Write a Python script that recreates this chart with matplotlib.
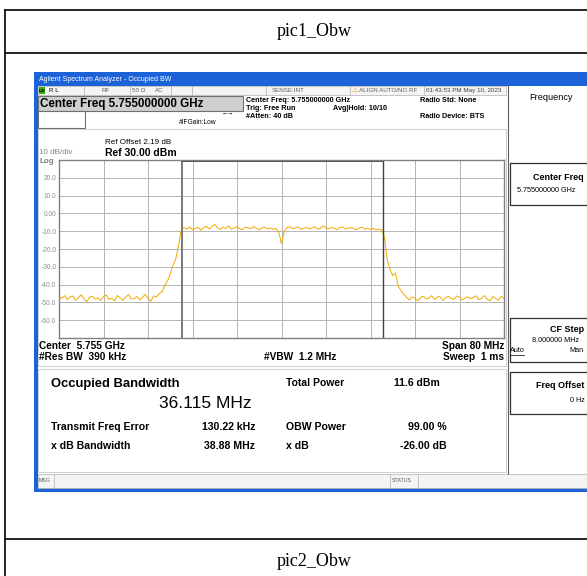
import numpy as np
import matplotlib
matplotlib.use('Agg')
import matplotlib.pyplot as plt
from matplotlib.patches import Rectangle

plt.rcParams['font.family'] = ['Liberation Sans', 'DejaVu Sans']

center_ghz = 5.755
span_mhz = 80
ref_level = 30.0
db_per_div = 10
obw_mhz = 36.115
freq_err_mhz = 0.13022

y_tick_vals = [20, 10, 0, -10, -20, -30, -40, -50, -60]
y_tick_labels = ['20.0', '10.0', '0.00', '-10.0', '-20.0', '-30.0', '-40.0', '-50.0', '-60.0']

# trace, one point every 0.5 MHz from -40 to +40 MHz (offset from center)
freq_offset = np.linspace(-40, 40, 161)
floor_left = [-46.5, -47.8, -46.2, -48.5, -47.0, -46.4, -48.9, -47.3, -45.8, -47.9,
              -49.6, -47.1, -46.5, -48.2, -47.4, -49.0, -46.8, -45.9, -48.3, -47.7,
              -49.2, -46.1, -47.5, -48.8, -47.0, -45.6, -48.1, -47.9, -46.7, -48.6,
              -47.2, -45.5, -47.8, -49.3, -46.4, -47.0, -45.2]
edge_left = [-44.0, -40.5, -38.0, -34.0, -29.0, -25.5, -18.0, -9.0]
band_left = [-8.0, -8.9, -7.6, -9.2, -8.4, -7.9, -9.5, -8.1, -7.2, -8.8,
             -7.5, -6.1, -8.3, -9.0, -7.7, -8.5, -7.0, -8.9, -8.2, -7.4,
             -8.6, -9.1, -7.8, -8.0, -8.7, -7.3, -8.4, -9.3, -8.1, -7.9,
             -8.6, -8.2, -9.0, -8.3, -10.5]
center_dip = [-17.0]
band_right = [-9.8, -8.0, -7.4, -8.6, -8.1, -7.7, -9.0, -8.3, -7.9, -8.8,
              -8.2, -7.5, -8.9, -8.4, -6.9, -8.1, -8.7, -7.8, -8.5, -9.1,
              -8.0, -7.6, -8.8, -8.3, -7.9, -8.6, -9.2, -8.1, -7.7, -8.9,
              -8.5, -9.0, -8.4, -9.3, -8.8, -9.1]
edge_right = [-13.0, -26.0, -31.5, -35.0, -33.5, -41.0, -43.5, -45.5]
floor_right = [-47.2, -48.6, -46.9, -47.8, -49.0, -47.3, -46.5, -48.1, -47.6, -46.2,
               -48.4, -47.0, -46.8, -48.9, -47.4, -46.6, -47.9, -48.3, -46.4, -47.1,
               -48.7, -47.5, -46.9, -48.0, -47.2, -46.3, -48.5, -47.7, -46.1, -48.2,
               -49.1, -46.7, -47.8, -48.8, -46.5, -48.0]
trace_dbm = floor_left + edge_left + band_left + center_dip + band_right + edge_right + floor_right

W, H = 587, 576
fig = plt.figure(figsize=(W / 100, H / 100), dpi=100)
bg = fig.add_axes([0, 0, 1, 1])
bg.set_xlim(0, W)
bg.set_ylim(H, 0)
bg.axis('off')


def txt(x, y, s, size=6, weight='normal', ha='left', color='black', **kw):
    bg.text(x, y, s, fontsize=size, fontweight=weight, ha=ha, va='center', color=color, **kw)


def box(x0, y0, x1, y1, fc='none', ec='#808080', lw=0.8):
    bg.add_patch(Rectangle((x0, y0), x1 - x0, y1 - y0, fc=fc, ec=ec, lw=lw))


# ---- document table ----
bg.plot([5, W], [10, 10], color='black', lw=1.2)
bg.plot([5, W], [53, 53], color='black', lw=1.2)
bg.plot([5, W], [539, 539], color='black', lw=1.2)
bg.plot([5, 5], [10, H], color='black', lw=1.2)
bg.text(314, 32, 'pic1_Obw', fontsize=13, family='Liberation Serif', ha='center', va='center')
bg.text(314, 562, 'pic2_Obw', fontsize=13, family='Liberation Serif', ha='center', va='center')

# ---- analyzer window ----
box(34, 72, W + 5, 492, fc='white', ec='none')
bg.add_patch(Rectangle((34, 72), W - 34 + 5, 14, fc='#1c62d8', ec='none'))
bg.add_patch(Rectangle((34, 72), 3.5, 420, fc='#1c62d8', ec='none'))
bg.add_patch(Rectangle((34, 488), W - 34 + 5, 4, fc='#1c62d8', ec='none'))
txt(39, 79.5, 'Agilent Spectrum Analyzer - Occupied BW', size=5, color='white')

# status row
box(37.5, 86, 506, 95, fc='#f4f4f4', ec='#b0b0b0', lw=0.5)
for xd in [84, 130, 171, 192, 266, 350, 424]:
    bg.plot([xd, xd], [86, 95], color='#b0b0b0', lw=0.5)
bg.add_patch(Rectangle((38.5, 87), 6, 7, fc='#3cb000', ec='none'))
txt(39, 90.5, 'LXI', size=3.2, weight='bold')
txt(49, 90.5, 'R L', size=4.5)
txt(102, 90.5, 'RF', size=4.5, color='#606060')
txt(132, 90.5, '50 Ω', size=4.5, color='#606060')
txt(155, 90.5, 'AC', size=4.5, color='#606060')
txt(272, 90.5, 'SENSE:INT', size=4.5, color='#606060')
txt(352, 90.5, '⚠', size=5, color='#e0b000')
txt(359, 90.5, 'ALIGN AUTO/NO RF', size=4.5, color='#606060')
txt(426, 90.5, '01:43:53 PM May 10, 2023', size=4.5, color='#404040')

# center freq entry
box(38, 95.5, 243, 111, fc='#cfcfcf', ec='#707070', lw=0.8)
txt(40, 103.5, 'Center Freq 5.755000000 GHz', size=8.4, weight='bold')
box(38, 111, 85, 128, fc='white', ec='#707070', lw=0.8)
txt(222, 113, '←→', size=4.5)
txt(179, 122, '#IFGain:Low', size=4.8)
txt(246, 100, 'Center Freq: 5.755000000 GHz', size=5.2, weight='bold')
txt(246, 108, 'Trig: Free Run', size=5.2, weight='bold')
txt(333, 108, 'Avg|Hold: 10/10', size=5.2, weight='bold')
txt(246, 116, '#Atten: 40 dB', size=5.2, weight='bold')
txt(420, 101, 'Radio Std: None', size=5.2, weight='bold')
txt(420, 117, 'Radio Device: BTS', size=5.2, weight='bold')

# graph frame
box(37.5, 129, 506, 366, ec='#c8c8c8', lw=0.6)
txt(105, 142, 'Ref Offset 2.19 dB', size=5.8)
txt(105, 152.5, 'Ref 30.00 dBm', size=7.5, weight='bold')
txt(39, 153, '10 dB/div', size=5.8, color='#808080')
txt(39, 161.5, 'Log', size=5.8, weight='bold', color='#808080')

txt(39, 346, 'Center  5.755 GHz', size=7.3, weight='bold')
txt(39, 357, '#Res BW  390 kHz', size=7.3, weight='bold')
txt(264, 357, '#VBW  1.2 MHz', size=7.3, weight='bold')
txt(504, 346, 'Span 80 MHz', size=7.3, weight='bold', ha='right')
txt(504, 357, 'Sweep  1 ms', size=7.3, weight='bold', ha='right')

# results panel
box(37.5, 369, 506, 472, ec='#c8c8c8', lw=0.6)
txt(51, 384, 'Occupied Bandwidth', size=9.4, weight='bold')
txt(159, 404, '36.115 MHz', size=12.5)
txt(286, 383, 'Total Power', size=7.5, weight='bold')
txt(394, 383, '11.6 dBm', size=7.5, weight='bold')
txt(51, 427, 'Transmit Freq Error', size=7.6, weight='bold')
txt(255, 427, '130.22 kHz', size=7.6, weight='bold', ha='right')
txt(286, 427, 'OBW Power', size=7.6, weight='bold')
txt(447, 427, '99.00 %', size=7.6, weight='bold', ha='right')
txt(51, 446, 'x dB Bandwidth', size=7.6, weight='bold')
txt(255, 446, '38.88 MHz', size=7.6, weight='bold', ha='right')
txt(286, 446, 'x dB', size=7.6, weight='bold')
txt(447, 446, '-26.00 dB', size=7.6, weight='bold', ha='right')

# message bar
box(37.5, 474, W + 5, 488, fc='#f4f4f4', ec='#b0b0b0', lw=0.5)
bg.plot([54, 54], [474, 488], color='#b0b0b0', lw=0.5)
bg.plot([390, 390], [474, 488], color='#b0b0b0', lw=0.5)
bg.plot([418, 418], [474, 488], color='#b0b0b0', lw=0.5)
txt(39, 481, 'MSG', size=3.8, color='#606060')
txt(392, 481, 'STATUS', size=3.8, color='#606060')

# right softkey panel
bg.plot([508, 508], [86, 474], color='#606060', lw=0.8)
txt(551, 98, 'Frequency', size=6.6, ha='center')
box(509.5, 163, W + 5, 205, ec='#303030', lw=0.9)
txt(533, 177, 'Center Freq', size=6.5, weight='bold')
txt(517, 190, '5.755000000 GHz', size=5.2)
box(509.5, 318, W + 5, 362, ec='#303030', lw=0.9)
txt(550, 330, 'CF Step', size=6.5, weight='bold')
txt(532, 340, '8.000000 MHz', size=5.2)
txt(510, 351, 'Auto', size=5.2)
bg.plot([510, 524], [355, 355], color='black', lw=0.5)
txt(569, 351, 'Man', size=5.2)
box(509.5, 372, W + 5, 414, ec='#303030', lw=0.9)
txt(536, 386, 'Freq Offset', size=6.5, weight='bold')
txt(570, 400, '0 Hz', size=5.2)

# ---- spectrum plot ----
x0, y0, x1, y1 = 59, 160, 504, 338
ax = fig.add_axes([x0 / W, 1 - y1 / H, (x1 - x0) / W, (y1 - y0) / H])
ax.set_xlim(-span_mhz / 2, span_mhz / 2)
ax.set_ylim(ref_level - 10 * db_per_div, ref_level)
ax.set_xticks(np.arange(-span_mhz / 2, span_mhz / 2 + 1, span_mhz / 10))
ax.set_yticks(y_tick_vals)
ax.set_yticklabels(y_tick_labels)
ax.set_xticklabels([])
ax.tick_params(length=0, labelsize=4.8, labelcolor='#909090', pad=2)
ax.grid(True, color='#b4b4b4', lw=0.7)
for s in ax.spines.values():
    s.set_color('#808080')
    s.set_linewidth(1.0)

ax.plot(freq_offset, trace_dbm, color='#f2a900', lw=0.7)

left_m = -obw_mhz / 2 + freq_err_mhz
right_m = obw_mhz / 2 + freq_err_mhz
ax.axvline(left_m, color='#7a7a7a', lw=1.4)
ax.axvline(right_m, color='#404040', lw=1.0)
ax.plot([left_m, right_m], [ref_level - 0.3, ref_level - 0.3], color='#505050', lw=1.4, clip_on=False)

fig.savefig('out.png', dpi=100)
